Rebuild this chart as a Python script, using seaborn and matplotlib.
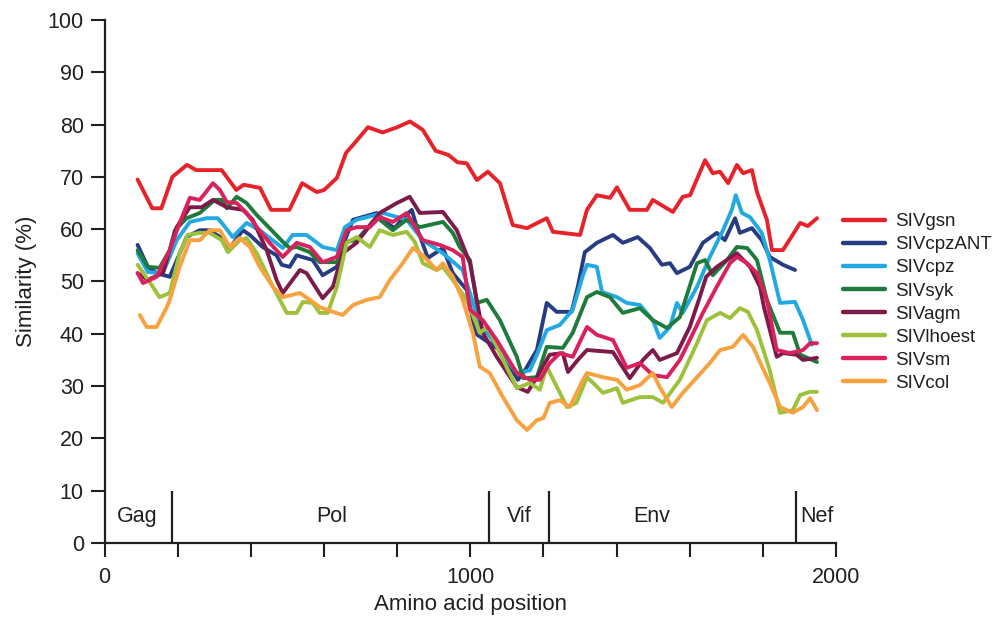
import numpy as np
import pandas as pd
import matplotlib
matplotlib.use("Agg")
import matplotlib.pyplot as plt
from matplotlib.ticker import MultipleLocator
import seaborn as sns

# --- dati (posizione aminoacido, similarita %) ---
virus_names = ["SIVgsn", "SIVcpzANT", "SIVcpz", "SIVsyk", "SIVagm", "SIVlhoest", "SIVsm", "SIVcol"]
virus_colors = ["#e6222a", "#283c82", "#22a9e1", "#1f7b3b", "#7c1b4a", "#9dc13b", "#d9215c", "#f7a23e"]

gsn_x = [90, 130, 155, 185, 225, 250, 320, 360, 380, 425, 455, 505, 540, 580, 600, 635, 660, 690, 720, 760,
         800, 835, 870, 905, 940, 965, 990, 1018, 1048, 1081, 1116, 1155, 1209, 1226, 1300, 1319, 1346, 1382,
         1401, 1436, 1483, 1499, 1554, 1581, 1601, 1642, 1663, 1683, 1705, 1729, 1746, 1770, 1784, 1811, 1825,
         1855, 1902, 1923, 1948]
gsn_y = [69.5, 64, 64, 70, 72.3, 71.3, 71.3, 67.5, 68.5, 67.9, 63.7, 63.7, 68.8, 67.1, 67.5, 69.8, 74.6, 77,
         79.5, 78.5, 79.5, 80.6, 79, 75, 74.2, 72.8, 72.6, 69.4, 71, 68.8, 60.8, 60.2, 62.1, 59.5, 58.9, 63.7,
         66.5, 66, 68, 63.7, 63.7, 65.6, 63.3, 66.2, 66.5, 73.2, 70.7, 71, 68.8, 72.3, 70.7, 71.3, 67.1, 61.8,
         56, 56, 61.2, 60.6, 62.1]

cpzant_x = [90, 118, 142, 178, 197, 224, 260, 287, 320, 342, 378, 397, 432, 470, 484, 506, 525, 569, 596, 635,
            657, 679, 744, 771, 793, 815, 840, 856, 884, 925, 952, 990, 1015, 1053, 1081, 1130, 1145, 1182, 1209,
            1236, 1277, 1294, 1313, 1346, 1390, 1417, 1458, 1491, 1524, 1546, 1565, 1600, 1636, 1674, 1696, 1724,
            1737, 1770, 1797, 1819, 1855, 1888]
cpzant_y = [57, 52.8, 51.6, 50.9, 54, 58.5, 59.8, 59.8, 58.3, 56.4, 59.8, 58.9, 56.6, 55, 53.2, 52.8, 55, 54.1,
            51.2, 52.8, 57.9, 61.8, 63.1, 61.2, 60.2, 62.1, 63.7, 59.8, 54.5, 56.4, 51.6, 48.4, 40, 38.2, 36.9,
            31.2, 32.5, 36.9, 45.9, 44.2, 44.2, 49, 55.6, 57.4, 58.9, 57.4, 58.5, 56.4, 53.2, 53.5, 51.6, 52.8,
            57.4, 59.3, 57.9, 62.1, 59.3, 60.2, 57.9, 54.7, 53.2, 52.2]

cpz_x = [90, 118, 159, 197, 233, 279, 309, 325, 350, 388, 424, 487, 514, 552, 596, 635, 657, 689, 761, 826,
         870, 925, 979, 1030, 1048, 1127, 1163, 1182, 1209, 1245, 1280, 1308, 1319, 1346, 1360, 1401, 1428, 1464,
         1499, 1518, 1546, 1565, 1581, 1620, 1655, 1691, 1715, 1726, 1743, 1765, 1797, 1819, 1847, 1888, 1910,
         1934]
cpz_y = [55.4, 51.8, 51.6, 57.9, 61.4, 62.1, 62.1, 60.8, 58.5, 61.2, 59.8, 56.4, 58.9, 58.9, 56.6, 56, 60.4,
         61.8, 63.1, 61.8, 57.9, 55.4, 52.2, 41, 40, 32.5, 33, 36, 40.7, 41.7, 44.6, 51.2, 53.2, 52.8, 48, 47,
         45.9, 45.5, 42.6, 39.2, 41.3, 45.9, 44, 49, 54.7, 59.8, 63.7, 66.5, 63.1, 62.3, 59.3, 54.1, 45.9, 46.1,
         42.6, 37.9]

syk_x = [90, 118, 150, 178, 192, 224, 260, 301, 320, 334, 361, 388, 416, 451, 487, 506, 525, 561, 588, 635,
         662, 689, 744, 788, 826, 862, 925, 952, 971, 999, 1018, 1045, 1081, 1127, 1145, 1182, 1209, 1253, 1280,
         1319, 1346, 1382, 1417, 1464, 1499, 1538, 1573, 1620, 1642, 1663, 1702, 1729, 1757, 1784, 1811, 1847,
         1882, 1902, 1948]
syk_y = [56, 52.8, 52.6, 56, 59.8, 62.1, 63.1, 65.6, 65.6, 64, 66.2, 65, 62.7, 60.2, 57.6, 56.4, 56.6, 55.6,
         53.7, 53.7, 57.6, 57.9, 62.3, 59.8, 61.8, 60.4, 61.4, 59.3, 56.6, 54.1, 45.9, 46.5, 42.6, 35.6, 31.5,
         31.7, 37.5, 37.3, 40.2, 47, 48, 47, 44, 44.9, 42.6, 41.1, 43.2, 53.5, 54.1, 51.2, 54.1, 56.6, 56.4,
         54.1, 46.5, 40.2, 40.2, 36, 34.6]

agm_x = [90, 118, 159, 197, 233, 265, 296, 334, 378, 405, 443, 470, 487, 534, 552, 596, 624, 651, 689, 752,
         799, 834, 862, 925, 963, 999, 1034, 1072, 1127, 1157, 1182, 1217, 1253, 1267, 1294, 1319, 1390, 1436,
         1472, 1499, 1518, 1565, 1600, 1625, 1645, 1674, 1729, 1765, 1792, 1803, 1838, 1855, 1892, 1910, 1948]
agm_y = [51.6, 50.3, 51.6, 60.4, 64.2, 64.2, 65.6, 64.2, 63.7, 61.8, 56, 50.3, 47.8, 52.2, 51.6, 46.8, 49,
         55.4, 57.4, 63.1, 65, 66.2, 63.1, 63.3, 59.8, 53.5, 40.2, 35.6, 29.8, 28.9, 31.7, 36, 36.3, 32.7, 35,
         36.9, 36.5, 31.5, 35, 36.9, 35, 36.3, 41.3, 46.5, 50.9, 52.8, 55.4, 52.8, 49, 45.1, 35.6, 36.3, 36,
         35, 35.4]

lhoest_x = [90, 125, 150, 178, 205, 227, 260, 287, 320, 337, 369, 388, 416, 451, 479, 498, 525, 542, 569, 588,
            610, 635, 662, 689, 725, 752, 788, 826, 848, 870, 908, 925, 952, 990, 1026, 1048, 1081, 1127, 1163,
            1190, 1209, 1245, 1264, 1290, 1319, 1336, 1363, 1401, 1417, 1464, 1499, 1527, 1573, 1620, 1647, 1683,
            1710, 1737, 1759, 1784, 1819, 1847, 1882, 1902, 1929, 1948]
lhoest_y = [53.2, 49.7, 47, 47.8, 55.4, 58.9, 59.3, 59.3, 57.9, 55.6, 57.9, 58.3, 55.4, 50.3, 46.5, 44, 44,
            46.1, 45.9, 44, 44, 49, 57.4, 58.5, 56.6, 59.8, 58.9, 59.5, 57.6, 53.5, 52.2, 52.8, 50.3, 46.5, 40.2,
            41.3, 36.3, 29.6, 30.6, 29.3, 33.7, 28.7, 26, 26.8, 31.7, 30.6, 28.7, 29.6, 26.8, 27.9, 27.9, 26.8,
            31.2, 38.2, 42.6, 44, 43, 44.9, 44.2, 40.7, 33, 24.9, 25.4, 28.3, 28.9, 28.9]

sm_x = [90, 105, 142, 178, 205, 233, 260, 296, 315, 334, 361, 388, 416, 451, 487, 525, 561, 596, 635, 662,
        689, 725, 752, 788, 826, 870, 916, 952, 979, 999, 1034, 1072, 1127, 1163, 1190, 1217, 1245, 1280, 1319,
        1346, 1390, 1428, 1464, 1499, 1538, 1573, 1600, 1636, 1674, 1710, 1729, 1757, 1784, 1811, 1838, 1874,
        1910, 1929, 1948]
sm_y = [51.6, 49.7, 50.9, 56, 61.2, 66, 65.6, 68.8, 67.5, 65.2, 65, 63.1, 60.4, 57.4, 54.7, 57.4, 56.6, 53.7,
        54.7, 59.8, 60.4, 60.4, 62.3, 61.4, 63.1, 57.9, 57, 56, 54.7, 44.6, 42.6, 38.8, 32.5, 31.2, 31.2, 34.4,
        36.3, 35.6, 41.3, 39.8, 38.8, 33.5, 34.4, 32.1, 31.7, 35, 38.8, 44, 49, 53.5, 54.7, 53.5, 51.6, 46.5,
        36.9, 36.3, 36.9, 38.2, 38.2]

col_x = [96, 115, 142, 170, 178, 205, 233, 260, 287, 315, 342, 369, 397, 424, 460, 487, 534, 561, 588, 624,
         651, 679, 717, 752, 780, 815, 843, 870, 908, 925, 952, 979, 1007, 1026, 1053, 1089, 1127, 1155, 1182,
         1200, 1217, 1245, 1272, 1308, 1319, 1363, 1401, 1428, 1464, 1499, 1518, 1551, 1581, 1620, 1655, 1683,
         1718, 1746, 1773, 1792, 1819, 1847, 1882, 1910, 1929, 1948]
col_y = [43.6, 41.3, 41.3, 45.1, 46.5, 52.8, 57.9, 57.9, 59.8, 59.8, 56.6, 58.3, 56.6, 52.8, 49, 47, 47.8,
         46.5, 45.1, 44.2, 43.6, 45.5, 46.5, 47, 50.3, 53.5, 56.4, 55, 52.2, 53.5, 50.9, 46.5, 40.2, 33.7, 32.5,
         27.9, 23.5, 21.6, 23.5, 23.9, 26.8, 27.3, 26, 31.2, 32.5, 31.7, 31.2, 29.3, 30.2, 32.5, 29.8, 26, 28.7,
         31.7, 34.4, 36.9, 37.5, 39.8, 37.5, 34.6, 30.6, 26, 24.9, 26, 27.7, 25.4]

# regioni geniche (confini e etichette)
gene_bounds = [183, 1051, 1215, 1890]
gene_names = ["Gag", "Pol", "Vif", "Env", "Nef"]
gene_label_x = [88, 621, 1135, 1497, 1948]

# --- tabella lunga per seaborn ---
serie = [(gsn_x, gsn_y), (cpzant_x, cpzant_y), (cpz_x, cpz_y), (syk_x, syk_y),
         (agm_x, agm_y), (lhoest_x, lhoest_y), (sm_x, sm_y), (col_x, col_y)]
df = pd.concat([pd.DataFrame({"pos": xs, "sim": ys, "virus": nome})
                for nome, (xs, ys) in zip(virus_names, serie)], ignore_index=True)

# --- grafico ---
sns.set_theme(style="ticks")
plt.rcParams['font.family'] = ['Liberation Sans', 'DejaVu Sans']
ink = "#231f20"

fig = plt.figure(figsize=(9.97, 6.18), dpi=100)
ax = fig.add_axes([0.105, 0.1214, 0.7335, 0.8462])

sns.lineplot(data=df, x="pos", y="sim", hue="virus", hue_order=virus_names,
             palette=dict(zip(virus_names, virus_colors)), estimator=None, sort=False,
             linewidth=2.8, ax=ax)

# linee delle regioni geniche
ax.vlines(gene_bounds, 0, 10, color=ink, linewidth=1.6)
for nome, gx in zip(gene_names, gene_label_x):
    ax.text(gx, 5, nome, ha="center", va="center", fontsize=15.5, color=ink)

ax.set_xlim(0, 2000)
ax.set_ylim(0, 100)
ax.xaxis.set_major_locator(MultipleLocator(1000))
ax.xaxis.set_minor_locator(MultipleLocator(200))
ax.yaxis.set_major_locator(MultipleLocator(10))
ax.tick_params(which="both", direction="out", length=10, width=1.5, colors=ink,
               labelsize=15.5, pad=5)
ax.tick_params(axis="x", which="major", pad=7)

sns.despine(ax=ax)
for s in ["left", "bottom"]:
    ax.spines[s].set_linewidth(1.6)
    ax.spines[s].set_color(ink)

ax.set_xlabel("Amino acid position", fontsize=16, color=ink)
ax.set_ylabel("Similarity (%)", fontsize=16, color=ink)
ax.xaxis.set_label_coords(0.5, -0.097)
ax.yaxis.set_label_coords(-0.092, 0.5)

handles, labels = ax.get_legend_handles_labels()
leg = ax.legend(handles, labels, loc="upper left", bbox_to_anchor=(0.846, 1 - 213 / 618),
                bbox_transform=fig.transFigure, frameon=False, fontsize=13.5,
                handlelength=2.2, handletextpad=0.55, labelspacing=0.32, borderpad=0, borderaxespad=0)
for t in leg.get_texts():
    t.set_color(ink)
for h in leg.get_lines():
    h.set_linewidth(3.2)

plt.savefig("out.png", dpi=100)
